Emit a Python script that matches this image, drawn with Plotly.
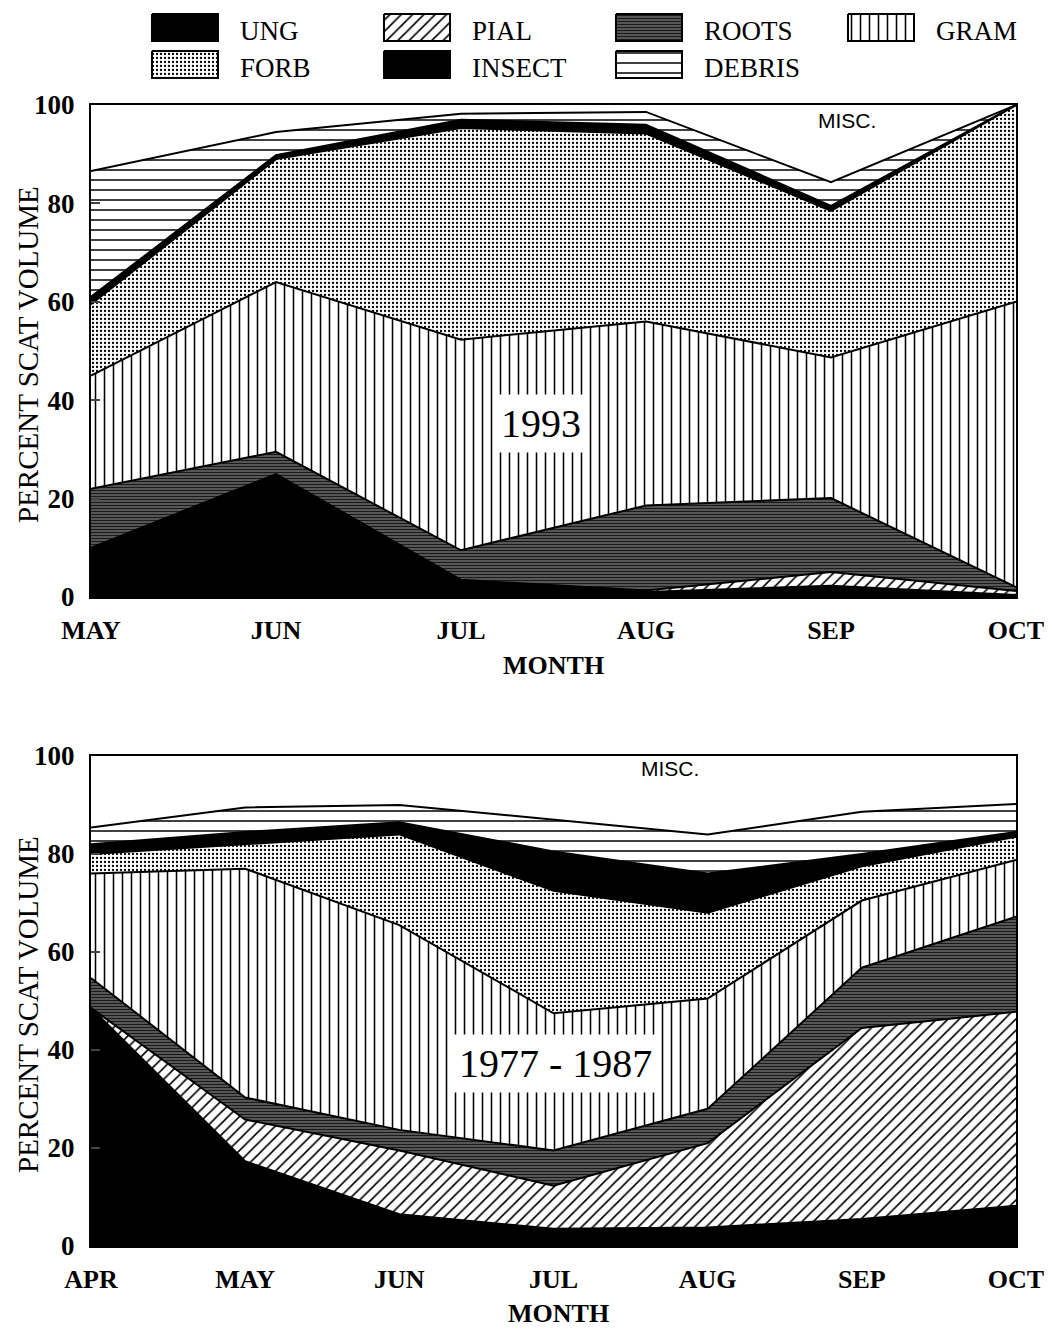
import plotly.graph_objects as go

# ---------------- data (percent scat volume, layer thickness) ----------------
months_1993 = ["MAY", "JUN", "JUL", "AUG", "SEP", "OCT"]
ung_1993    = [10.0, 25.0, 3.5, 1.0, 2.3, 0.4]
pial_1993   = [0.0, 0.0, 0.0, 0.3, 2.8, 0.8]
roots_1993  = [12.0, 4.5, 6.0, 17.3, 15.0, 0.8]
gram_1993   = [23.0, 34.5, 42.8, 37.4, 28.6, 58.0]
forb_1993   = [14.5, 25.0, 43.0, 38.2, 29.8, 40.0]
insect_1993 = [1.5, 0.8, 1.7, 1.8, 1.0, 0.0]
debris_1993 = [25.6, 4.7, 1.2, 2.6, 4.8, 0.0]

months_7787 = ["APR", "MAY", "JUN", "JUL", "AUG", "SEP", "OCT"]
ung_7787    = [48.6, 17.3, 6.5, 3.5, 3.8, 5.5, 8.2]
pial_7787   = [0.0, 8.5, 13.0, 8.8, 17.2, 39.0, 39.6]
roots_7787  = [6.1, 4.5, 4.2, 7.2, 7.0, 12.3, 19.4]
gram_7787   = [21.3, 46.7, 41.8, 28.0, 22.5, 13.7, 11.6]
forb_7787   = [4.0, 5.0, 18.5, 25.0, 17.5, 7.0, 4.7]
insect_7787 = [2.0, 2.5, 2.5, 8.0, 8.0, 2.5, 1.0]
debris_7787 = [3.4, 5.0, 3.5, 6.5, 8.0, 8.6, 5.7]

layer_names = ["UNG", "PIAL", "ROOTS", "GRAM", "FORB", "INSECT", "DEBRIS"]
y_ticks = [0, 20, 40, 60, 80, 100]

series_1993 = [ung_1993, pial_1993, roots_1993, gram_1993, forb_1993, insect_1993, debris_1993]
series_7787 = [ung_7787, pial_7787, roots_7787, gram_7787, forb_7787, insect_7787, debris_7787]

# ---------------- styles ----------------
styles = {
    "UNG":    dict(fillcolor="black", fillpattern=None),
    "PIAL":   dict(fillcolor="white", fillpattern=dict(shape="/", fgcolor="black", bgcolor="white", size=8, solidity=0.2, fillmode="replace")),
    "ROOTS":  dict(fillcolor="#444444", fillpattern=dict(shape="-", fgcolor="#1a1a1a", bgcolor="#6a6a6a", size=3, solidity=0.5, fillmode="replace")),
    "GRAM":   dict(fillcolor="white", fillpattern=dict(shape="|", fgcolor="black", bgcolor="white", size=9, solidity=0.17, fillmode="replace")),
    "FORB":   dict(fillcolor="white", fillpattern=dict(shape=".", fgcolor="black", bgcolor="white", size=4, solidity=0.25, fillmode="replace")),
    "INSECT": dict(fillcolor="black", fillpattern=None),
    "DEBRIS": dict(fillcolor="white", fillpattern=dict(shape="-", fgcolor="black", bgcolor="white", size=10, solidity=0.15, fillmode="replace")),
}

SERIF = "Liberation Serif"
SANS = "Liberation Sans"

# ---------------- geometry (page is offset by the 8px body margin) ----------------
OFF = 8
FIG_W, FIG_H = 1044, 1321
PL, PR = 91, 1016            # plot left/right in page px
TOP1, BOT1 = 105, 597        # upper chart top/bottom in page px
TOP2, BOT2 = 756, 1246       # lower chart top/bottom in page px
MARG_L = PL - OFF
MARG_R = FIG_W - (PR - OFF)
PLOT_H = BOT2 - OFF          # paper height (margin t = 0)
MARG_B = FIG_H - PLOT_H
PLOT_W = PR - PL

def px(X):
    return (X - PL) / PLOT_W

def py(Y):
    return (PLOT_H - (Y - OFF)) / PLOT_H

fig = go.Figure()

def add_stack(months, series, xa, ya, group):
    for name, vals in zip(layer_names, series):
        st = styles[name]
        kw = dict(
            x=months, y=vals, name=name, mode="lines",
            stackgroup=group, xaxis=xa, yaxis=ya,
            line=dict(color="black", width=2),
            fillcolor=st["fillcolor"],
            showlegend=False, hoverinfo="skip",
        )
        if st["fillpattern"] is not None:
            kw["fillpattern"] = st["fillpattern"]
        fig.add_trace(go.Scatter(**kw))

add_stack(months_1993, series_1993, "x", "y", "s1993")
add_stack(months_7787, series_7787, "x2", "y2", "s7787")

# ---------------- custom legend (swatches on a pixel-unit overlay axis) ----------------
LEG_X0, LEG_DX = 152, 232       # first swatch left, column step (page px)
LEG_Y0, LEG_DY = 14, 37         # first row top, row step (page px)
SW_W, SW_H = 66, 27             # swatch size (px)
legend_ann = []
for i, name in enumerate(layer_names):
    col, row = i % 4, i // 4
    x0 = LEG_X0 + col * LEG_DX
    y0 = LEG_Y0 + row * LEG_DY
    st = styles[name]
    kw = dict(
        x=[x0, x0 + SW_W, x0 + SW_W, x0, x0], y=[y0, y0, y0 + SW_H, y0 + SW_H, y0],
        mode="lines", fill="toself", fillcolor=st["fillcolor"],
        line=dict(color="black", width=2), xaxis="x3", yaxis="y3",
        showlegend=False, hoverinfo="skip",
    )
    if st["fillpattern"] is not None:
        kw["fillpattern"] = st["fillpattern"]
    fig.add_trace(go.Scatter(**kw))
    legend_ann.append(dict(text=name, xref="x3", yref="y3", x=x0 + SW_W + 20, y=y0 + SW_H / 2 + 3,
                           xanchor="left", yanchor="middle", showarrow=False,
                           font=dict(family=SERIF, size=27)))

axis_common = dict(
    showline=True, linecolor="black", linewidth=2, mirror=True,
    showgrid=False, zeroline=False,
)

fig.update_layout(
    width=FIG_W, height=FIG_H,
    paper_bgcolor="white", plot_bgcolor="white",
    margin=dict(l=MARG_L, r=MARG_R, t=0, b=MARG_B, autoexpand=False),
    font=dict(family=SERIF, color="black"),
    showlegend=False,
    xaxis=dict(**axis_common, type="category", range=[0, len(months_1993) - 1],
               ticks="", tickfont=dict(family=SERIF, size=26, weight="bold"),
               ticklabelstandoff=9, anchor="y", domain=[0, 1]),
    yaxis=dict(**axis_common, range=[0, 100], tickvals=y_ticks, ticks="inside",
               ticklen=9, tickwidth=2, tickfont=dict(family=SERIF, size=27, weight="bold"),
               ticklabelstandoff=9, domain=[py(BOT1), py(TOP1)], anchor="x"),
    xaxis2=dict(**axis_common, type="category", range=[0, len(months_7787) - 1],
                ticks="", tickfont=dict(family=SERIF, size=26, weight="bold"),
                ticklabelstandoff=9, anchor="y2", domain=[0, 1]),
    yaxis2=dict(**axis_common, range=[0, 100], tickvals=y_ticks, ticks="inside",
                ticklen=9, tickwidth=2, tickfont=dict(family=SERIF, size=27, weight="bold"),
                ticklabelstandoff=9, domain=[0.0, py(TOP2)], anchor="x2"),
    xaxis3=dict(visible=False, range=[PL, PR], domain=[0, 1], anchor="y3", fixedrange=True),
    yaxis3=dict(visible=False, range=[TOP1, OFF], domain=[py(TOP1), 1.0],
                anchor="x3", fixedrange=True),
)

def label(text, X, Y, font, **extra):
    d = dict(text=text, xref="paper", yref="paper", x=px(X), y=py(Y),
             xanchor="center", yanchor="middle", showarrow=False, font=font)
    d.update(extra)
    return d

ann = list(legend_ann)
ann.append(label("PERCENT SCAT VOLUME", 28, 355, dict(family=SERIF, size=29), textangle=-90))
ann.append(label("PERCENT SCAT VOLUME", 28, 1005, dict(family=SERIF, size=29), textangle=-90))
ann.append(label("MONTH", 553, 665, dict(family=SERIF, size=26, weight="bold")))
ann.append(label("MONTH", 558, 1313, dict(family=SERIF, size=26, weight="bold")))
ann.append(label("1993", 541, 424, dict(family=SERIF, size=40), bgcolor="white", borderpad=6))
ann.append(label("1977 - 1987", 555, 1063, dict(family=SERIF, size=40), bgcolor="white", borderpad=6))
ann.append(label("MISC.", 847, 120, dict(family=SANS, size=21)))
ann.append(label("MISC.", 670, 768, dict(family=SANS, size=21)))
fig.update_layout(annotations=ann)

fig.write_html("out.html")
